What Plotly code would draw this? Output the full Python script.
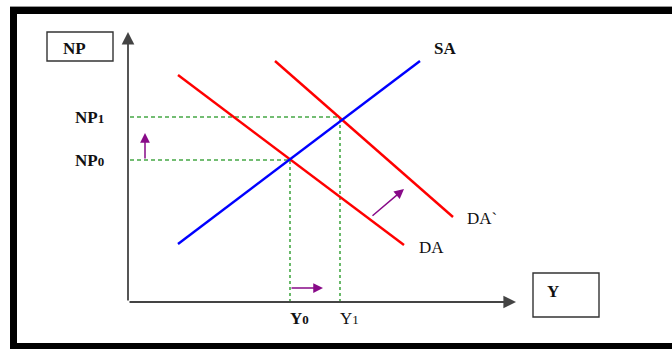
import plotly.graph_objects as go

# curve end points (model units: x = output Y, y = price level NP)
sa_x = [5.0, 29.2]
sa_y = [5.8, 24.1]
da_x = [5.0, 27.6]
da_y = [22.7, 5.7]
da2_x = [14.7, 32.5]
da2_y = [24.1, 8.5]

# equilibrium levels
y_levels = [16.2, 21.2]
np_levels = [14.2, 18.5]
y_labels = ["Y<span style='font-size:13px'>0</span>", "Y<span style='font-size:13px'>1</span>"]
np_labels = ["NP<span style='font-size:13px'>0</span>", "NP<span style='font-size:13px'>1</span>"]
curve_labels = ["SA", "DA", "DA`"]

# axis extents
x_end = 38.8
y_end = 27.0

W, H = 672, 349
FONT = "Liberation Serif, Times New Roman, serif"
GREEN = "#45a845"
PURPLE = "#880a88"

fig = go.Figure()

# dashed guide lines
for yl, npl in zip(y_levels, np_levels):
    fig.add_trace(go.Scatter(x=[0.2, yl], y=[npl, npl], mode="lines",
                             line=dict(color=GREEN, width=1.4, dash="4px,3px")))
    fig.add_trace(go.Scatter(x=[yl, yl], y=[0, npl], mode="lines",
                             line=dict(color=GREEN, width=1.6, dash="3px,3px")))

# curves
fig.add_trace(go.Scatter(x=da_x, y=da_y, mode="lines", line=dict(color="#ff0000", width=2.4)))
fig.add_trace(go.Scatter(x=da2_x, y=da2_y, mode="lines", line=dict(color="#ff0000", width=2.4)))
fig.add_trace(go.Scatter(x=sa_x, y=sa_y, mode="lines", line=dict(color="#0000ff", width=2.4)))

ann = []
# axes with arrow heads
for hx, hy in [(0, y_end), (x_end, 0)]:
    ann.append(dict(x=hx, y=hy, ax=0, ay=0, axref="x", ayref="y", xref="x", yref="y",
                    showarrow=True, arrowhead=2, arrowsize=1.4, arrowwidth=1.8,
                    arrowcolor="#444", text=""))

# shift arrows
shifts = [((1.7, np_levels[0]), (1.7, 16.9)),
          ((y_levels[0], 1.4), (19.5, 1.4)),
          ((24.3, 8.5), (27.6, 11.3))]
for (tx, ty), (hx, hy) in shifts:
    ann.append(dict(x=hx, y=hy, ax=tx, ay=ty, axref="x", ayref="y", xref="x", yref="y",
                    showarrow=True, arrowhead=2, arrowsize=1.3, arrowwidth=1.5,
                    arrowcolor=PURPLE, text=""))

bold = dict(family=FONT, size=17, color="#111", weight="bold")
plain = dict(family=FONT, size=17, color="#111")

for lab, yl, f in zip(y_labels, y_levels, [bold, plain]):
    ann.append(dict(x=yl - 0.2, y=-1.6, text=lab, showarrow=False, xanchor="left",
                    yanchor="middle", font=f))
for lab, npl in zip(np_labels, np_levels):
    ann.append(dict(x=-2.2, y=npl, text=lab, showarrow=False, xanchor="right",
                    yanchor="middle", font=bold))

label_pos = [(30.4, 25.4), (28.9, 5.5), (33.7, 8.4)]
for lab, (lx, ly), f in zip(curve_labels, label_pos, [bold, plain, plain]):
    ann.append(dict(x=lx, y=ly, text=lab, showarrow=False, xanchor="left",
                    yanchor="middle", font=f))

# axis title boxes
ann.append(dict(x=-6.7, y=25.4, text="NP", showarrow=False, xanchor="left",
                yanchor="middle", font=bold))
ann.append(dict(x=41.7, y=1.1, text="Y", showarrow=False, xanchor="left",
                yanchor="middle", font=bold))

shapes = [
    dict(type="rect", xref="x", yref="y", x0=-8.1, x1=-1.5, y0=24.1, y1=27.0,
         line=dict(color="#333", width=1.4)),
    dict(type="rect", xref="x", yref="y", x0=40.5, x1=47.1, y0=-1.5, y1=2.9,
         line=dict(color="#333", width=1.4)),
    # outer frame
    dict(type="rect", xref="paper", yref="paper", x0=10 / W, x1=17 / W, y0=0, y1=1 - 7 / H,
         fillcolor="black", line=dict(width=0)),
    dict(type="rect", xref="paper", yref="paper", x0=10 / W, x1=1, y0=1 - 14 / H, y1=1 - 7 / H,
         fillcolor="black", line=dict(width=0)),
    dict(type="rect", xref="paper", yref="paper", x0=10 / W, x1=1, y0=0, y1=6 / H,
         fillcolor="black", line=dict(width=0)),
    dict(type="line", xref="paper", yref="paper", x0=10 / W, x1=1, y0=1 - 6.5 / H, y1=1 - 6.5 / H,
         line=dict(color="#999", width=1)),
]

fig.update_layout(
    width=W, height=H,
    margin=dict(l=0, r=0, t=0, b=0),
    paper_bgcolor="white", plot_bgcolor="white",
    showlegend=False,
    xaxis=dict(range=[-12.8, 54.4], visible=False, fixedrange=True),
    yaxis=dict(range=[-4.7, 30.2], visible=False, fixedrange=True),
    annotations=ann,
    shapes=shapes,
)

# page body has a default 8px margin; drop it so the figure fills the window
fig.write_html("out.html", config=dict(displayModeBar=False),
               post_script="document.body.style.margin='0px';")
